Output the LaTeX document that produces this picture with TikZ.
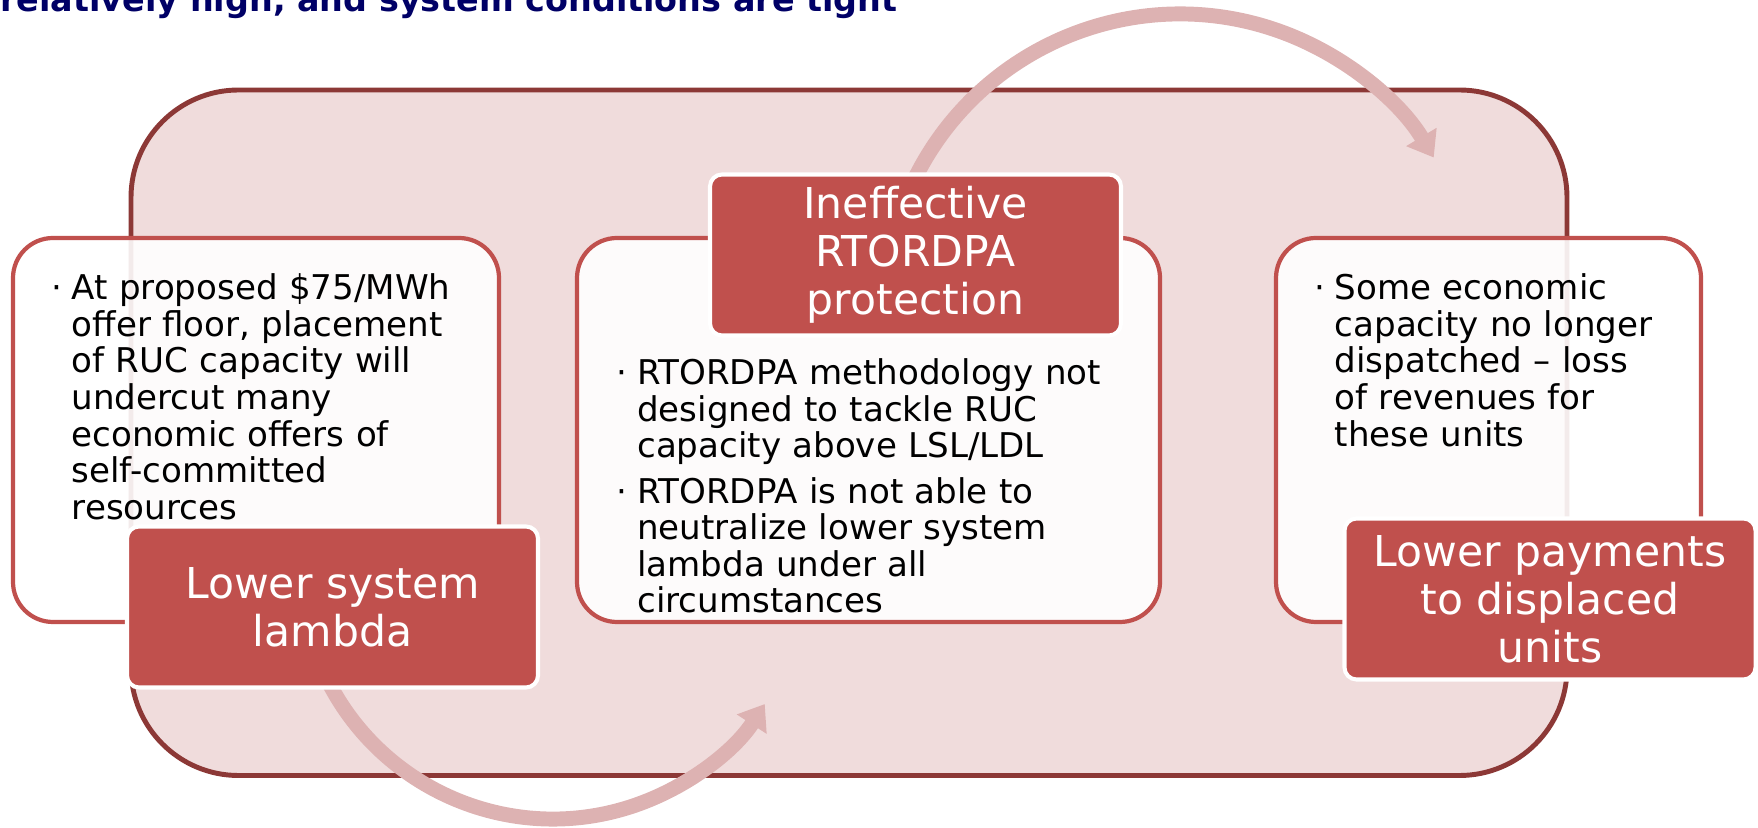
\documentclass[tikz,border=0pt]{standalone}
\usepackage{fontspec}
\setmainfont{DejaVu Sans}
\usepackage{xcolor}
\usepackage{tikz}
\usetikzlibrary{arrows.meta}

\definecolor{panelfill}{RGB}{240,220,220}
\definecolor{paneledge}{RGB}{140,56,54}
\definecolor{headred}{RGB}{192,80,77}
\definecolor{cyclepink}{RGB}{221,178,178}
\definecolor{titlenavy}{RGB}{0,0,102}

\newcommand{\dotmark}{\leavevmode\llap{·\hspace{0.19cm}}}

\begin{document}
\begin{tikzpicture}[x=1cm,y=1cm,
    infocard/.style={draw=headred,line width=2.4pt,fill=white,fill opacity=0.9,rounded corners=0.8cm,minimum height=7.68cm,inner sep=0pt},
    headbox/.style={draw=white,line width=2.3pt,fill=headred,rounded corners=0.24cm,minimum width=8.22cm,minimum height=3.22cm,inner sep=0pt,align=center,text=white,font=\fontsize{24.2pt}{27.3pt}\selectfont},
    bullettext/.style={anchor=base west,inner sep=0pt,text width=10cm,align=left,font=\fontsize{19.4pt}{20.8pt}\selectfont},
    cyclearrow/.style={cyclepink,line width=8.5pt,-{Triangle[length=0.48cm,width=0.68cm]}}]
  \useasboundingbox (0,0) rectangle (35.16,16.54);
  \clip (0,0) rectangle (35.16,16.54);
  % heading, cut at the top edge
  \node[anchor=base west,inner sep=0pt,text=titlenavy,font=\fontsize{19pt}{22pt}\selectfont\bfseries] (heading) at (0,16.30) {relatively high, and system conditions are tight};
  % background panel
  \draw[paneledge,fill=panelfill,line width=2.8pt,rounded corners=2.15cm] (2.62,1.03) rectangle (31.34,14.74);
  % cycle arrows
  \coordinate (lowpivot) at (11.06,5.21);
  \coordinate (highpivot) at (23.60,10.34);
  \draw[cyclearrow] ([shift={(200:5.05)}]lowpivot) arc[start angle=200,end angle=327,radius=5.05];
  \draw[cyclearrow] ([shift={(157:5.92)}]highpivot) arc[start angle=157,end angle=31,radius=5.92];
  % cards
  \node[infocard,minimum width=9.72cm] (leftcard) at (5.12,7.94) {};
  \node[infocard,minimum width=11.66cm] (midcard) at (17.37,7.94) {};
  \node[infocard,minimum width=8.50cm] (rightcard) at (29.77,7.94) {};
  % bullet points
  \node[bullettext] (lefttext) at ([shift={(1.21,-1.28)}]leftcard.north west)
    {\dotmark At proposed \$75/MWh\\offer floor, placement\\of RUC capacity will\\undercut many\\economic offers of\\self-committed\\resources};
  \node[bullettext] (midtext) at ([shift={(1.24,-2.98)}]midcard.north west)
    {\dotmark RTORDPA methodology not\\designed to tackle RUC\\capacity above LSL/LDL\\[0.17cm]
     \dotmark RTORDPA is not able to\\neutralize lower system\\lambda under all\\circumstances};
  \node[bullettext] (righttext) at ([shift={(1.21,-1.28)}]rightcard.north west)
    {\dotmark Some economic\\capacity no longer\\dispatched – loss\\of revenues for\\these units};
  % red headings
  \node[headbox] (lefthead) at (6.65,4.40) {Lower system\\lambda};
  \node[headbox] (midhead) at (18.31,11.44) {Ineffective\\RTORDPA\\protection};
  \node[headbox] (righthead) at (31.00,4.56) {Lower payments\\to displaced\\units};
\end{tikzpicture}
\end{document}
